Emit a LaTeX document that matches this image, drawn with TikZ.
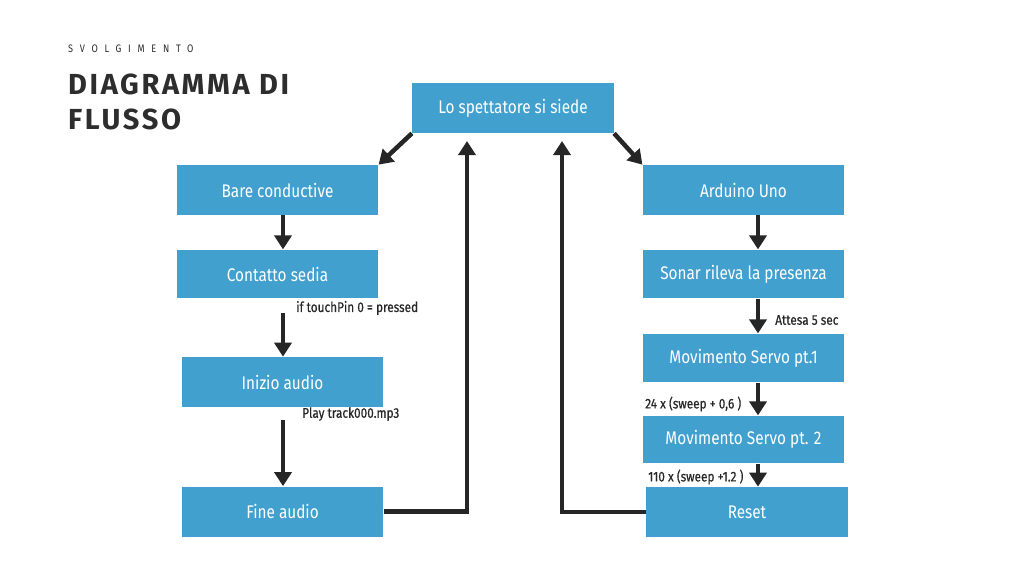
\documentclass[tikz,border=0pt]{standalone}
\usepackage{fontspec}
\setmainfont{Fira Sans}[FakeStretch=0.84]
\newfontfamily\titlefont{Fira Sans}[LetterSpace=9]
\newfontfamily\labelfont{Fira Sans}[FakeStretch=0.84,FakeBold=0.5]
\usetikzlibrary{arrows.meta}
\definecolor{boxblue}{RGB}{66,160,207}
\definecolor{inkgray}{RGB}{38,38,38}
\definecolor{titlegray}{RGB}{45,45,45}

\begin{document}
\begin{tikzpicture}[x=0.02cm,y=-0.02cm]
\useasboundingbox (0,0) rectangle (1024,576);
% title
\node[anchor=west,text=titlegray] (sub) at (62,49) {\fontsize{6.2}{7}\selectfont\addfontfeature{LetterSpace=62}SVOLGIMENTO};
\node[anchor=west,text=titlegray] (title1) at (62,84) {\titlefont\bfseries\fontsize{16.5}{18}\selectfont DIAGRAMMA DI};
\node[anchor=west,text=titlegray] (title2) at (62,119) {\titlefont\bfseries\fontsize{16.5}{18}\selectfont FLUSSO};
\begin{scope}[every node/.style={rectangle,fill=boxblue,text=white,inner sep=0pt,
              minimum width=4.03cm,minimum height=1cm,font=\fontsize{10.4}{12}\selectfont}]
    \node (top) at (513,108) {Lo spettatore si siede};
    \node (bare) at (277.5,190) {Bare conductive};
    \node[minimum height=0.97cm] (contatto) at (277.5,274) {Contatto sedia};
    \node (inizio) at (282.5,382) {Inizio audio};
    \node (fine) at (282.5,511.5) {Fine audio};
    \node (arduino) at (743.5,190) {Arduino Uno};
    \node[minimum height=0.97cm] (sonar) at (743.5,274) {Sonar rileva la presenza};
    \node[minimum height=0.97cm] (servoA) at (743.5,358) {Movimento Servo pt.1};
    \node[minimum height=0.95cm] (servoB) at (743.5,439.5) {Movimento Servo pt. 2};
    \node (reset) at (747,512) {Reset};
\end{scope}
\coordinate (lcol) at (283,0);
\coordinate (rcol) at (758,0);
\coordinate (backA) at (467,141);
\coordinate (backB) at (562,141);
\begin{scope}[every node/.style={anchor=west,text=inkgray,inner sep=0pt,font=\labelfont\fontsize{8}{9}\selectfont},
              line width=0.09cm,draw=inkgray,
              >={Triangle[length=0.28cm,width=0.34cm]}]
    \draw[->] (top.south west) -- (bare.north east);
    \draw[->] (top.south east) -- (arduino.north west);
    \draw[->] (bare.south -| lcol) -- (contatto.north -| lcol);
    \draw[->,shorten <=0.28cm] (contatto.south -| lcol) -- (inizio.north -| lcol);
    \draw[->,shorten <=0.26cm] (inizio.south -| lcol) -- (fine.north -| lcol);
    \draw[->] (fine.east) -| (backA);
    \draw[->] (reset.west) -| (backB);
    \draw[->] (arduino.south -| rcol) -- (sonar.north -| rcol);
    \draw[->] (sonar.south -| rcol) -- (servoA.north -| rcol);
    \draw[->] (servoA.south -| rcol) -- (servoB.north -| rcol);
    \draw[->] (servoB.south -| rcol) -- (reset.north -| rcol);
    \node (lbtouch) at (294,308) {if touchPin 0 = pressed};
    \node (lbplay) at (300,414) {Play track000.mp3};
    \node (lbwait) at (773,320) {Attesa 5 sec};
    \node (lbsweepA) at (643,404) {24 x (sweep + 0,6 )};
    \node (lbsweepB) at (646,477) {110 x (sweep +1.2 )};
\end{scope}
\end{tikzpicture}
\end{document}
